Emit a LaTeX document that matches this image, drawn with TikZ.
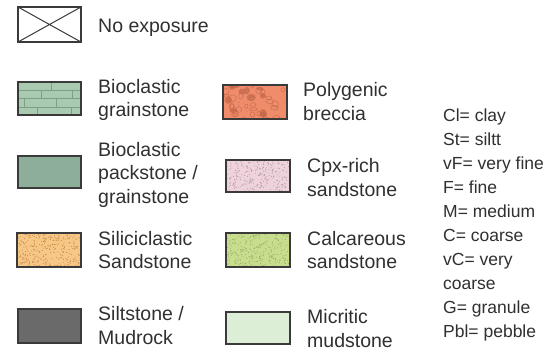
\documentclass[tikz,border=0pt]{standalone}
\usepackage{fontspec}
\setmainfont{Liberation Sans}
\definecolor{txt}{HTML}{303030}
\definecolor{edge}{HTML}{3A3A3A}
\definecolor{grainF}{HTML}{A9C9B1}
\definecolor{grainL}{HTML}{7A9F86}
\definecolor{packF}{HTML}{8DAF99}
\definecolor{sandF}{HTML}{F7C785}
\definecolor{sandD}{HTML}{C88A4C}
\definecolor{siltF}{HTML}{6A6A6A}
\definecolor{brecF}{HTML}{F08C6A}
\definecolor{brecD}{HTML}{C0664A}
\definecolor{cpxF}{HTML}{EFD3DC}
\definecolor{cpxD}{HTML}{B39AA5}
\definecolor{calcF}{HTML}{C9DD8F}
\definecolor{calcD}{HTML}{94AE62}
\definecolor{micF}{HTML}{DCEFD6}
\newcommand{\stipplebox}[6]{%
  \begin{scope}
    \clip (#1,#2) rectangle (#3,#4);
    \foreach \k in {1,...,#6} {
      \pgfmathsetmacro\px{#1+rnd*(#3-#1)}
      \pgfmathsetmacro\py{#2+rnd*(#4-#2)}
      \fill[#5] (\px,\py) circle (0.55);
    }
  \end{scope}}
\begin{document}
\begin{tikzpicture}[x=1pt,y=-1pt,
  lab/.style={anchor=west,inner sep=0pt,align=left,text=txt,
    font=\fontsize{19.5}{23.5}\selectfont},
  legbox/.style={draw=edge,line width=1.5pt}]
\useasboundingbox (0,0) rectangle (554,351);
\clip (0,0) rectangle (554,351);
\fill[white] (0,0) rectangle (554,351);
\pgfmathsetseed{7}

% No exposure
\draw[legbox,line width=1.2pt] (18,7) rectangle (81,42);
\draw[edge,line width=1pt] (18,7) -- (81,42) (18,42) -- (81,7);
\node[lab] (t0) at (98,27.5) {No exposure};

% Bioclastic grainstone (brick pattern)
\fill[grainF] (18,82) rectangle (81,115);
\begin{scope}[draw=grainL,line width=0.8pt]
  \draw (18,90) -- (81,90) (18,98.5) -- (81,98.5) (18,107) -- (81,107);
  \draw (51,82) -- (51,90);
  \draw (41,90) -- (41,98.5) (72,90) -- (72,98.5);
  \draw (24,98.5) -- (24,107) (56,98.5) -- (56,107);
  \draw (37,107) -- (37,115) (71,107) -- (71,115);
\end{scope}
\draw[legbox] (18,82) rectangle (81,115);
\node[lab] (t1) at (98,100) {Bioclastic\\grainstone};

% Bioclastic packstone
\draw[legbox,fill=packF] (18,156) rectangle (81,188);
\node[lab] (t2) at (98,174.5) {Bioclastic\\packstone /\\grainstone};

% Siliciclastic sandstone
\fill[sandF] (17,233) rectangle (81,267);
\stipplebox{17}{233}{81}{267}{sandD}{300}
\draw[legbox] (17,233) rectangle (81,267);
\node[lab] (t3) at (98,250) {Siliciclastic\\Sandstone};

% Siltstone
\draw[legbox,fill=siltF] (18,309) rectangle (81,343);
\node[lab] (t4) at (98,325.5) {Siltstone /\\Mudrock};

% Polygenic breccia
\fill[brecF] (223,85) rectangle (287,119);
\begin{scope}
  \clip (223,85) rectangle (287,119);
  \foreach \k in {1,...,12} {
    \pgfmathsetmacro\px{223+rnd*64}
    \pgfmathsetmacro\py{85+rnd*34}
    \pgfmathsetmacro\rx{2+rnd*3}
    \pgfmathsetmacro\ry{1.5+rnd*2.5}
    \fill[brecD,opacity=0.7] (\px,\py) ellipse ({\rx} and {\ry});
  }
  \foreach \k in {1,...,24} {
    \pgfmathsetmacro\px{223+rnd*64}
    \pgfmathsetmacro\py{85+rnd*34}
    \pgfmathsetmacro\rx{1.5+rnd*2.5}
    \pgfmathsetmacro\ry{1.5+rnd*2}
    \draw[brecD,line width=0.5pt,opacity=0.8] (\px,\py) ellipse ({\rx} and {\ry});
  }
  \stipplebox{223}{85}{287}{119}{brecD!80}{60}
\end{scope}
\draw[legbox] (223,85) rectangle (287,119);
\node[lab] (t5) at (303,101.5) {Polygenic\\breccia};

% Cpx-rich sandstone
\fill[cpxF] (226,160) rectangle (290,192);
\stipplebox{226}{160}{290}{192}{cpxD}{260}
\draw[legbox] (226,160) rectangle (290,192);
\node[lab] (t6) at (307,177.5) {Cpx-rich\\sandstone};

% Calcareous sandstone
\fill[calcF] (226,233) rectangle (290,267);
\stipplebox{226}{233}{290}{267}{calcD}{280}
\draw[legbox] (226,233) rectangle (290,267);
\node[lab] (t7) at (307,250) {Calcareous\\sandstone};

% Micritic mudstone
\draw[legbox,fill=micF] (226,312) rectangle (290,344);
\node[lab] (t8) at (307,328.5) {Micritic\\mudstone};

% Grain size abbreviations
\node[lab,font=\fontsize{17.5}{24}\selectfont] (t9) at (443,225)
  {Cl= clay\\St= siltt\\vF= very fine\\F= fine\\M= medium\\C= coarse\\vC= very\\coarse\\G= granule\\Pbl= pebble};
\end{tikzpicture}
\end{document}
